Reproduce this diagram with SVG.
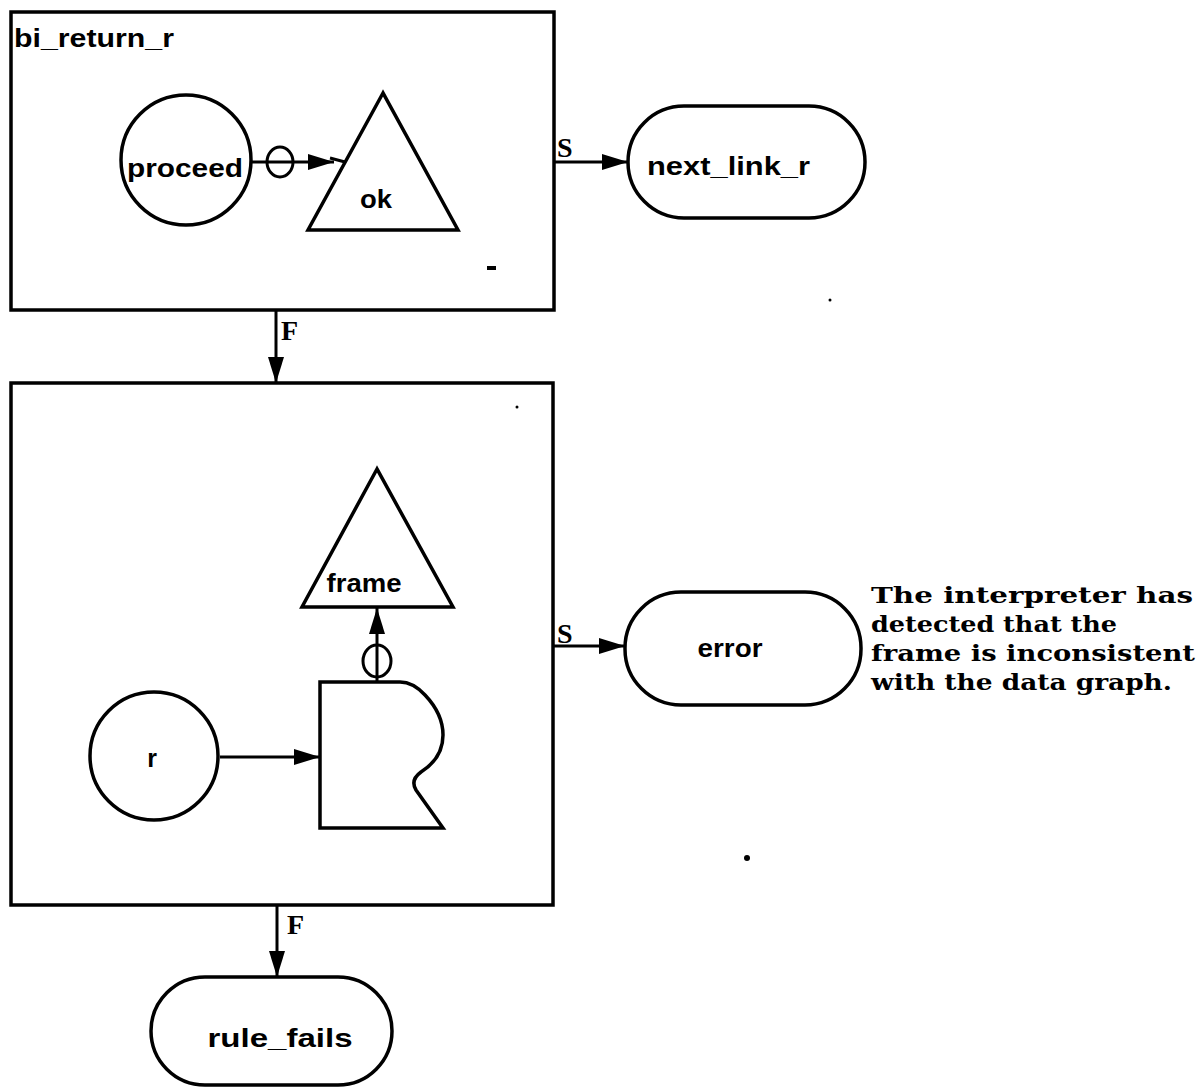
<svg xmlns="http://www.w3.org/2000/svg" width="1198" height="1089" viewBox="0 0 1198 1089">
<defs>
<marker id="arr" markerUnits="userSpaceOnUse" markerWidth="28" markerHeight="20" viewBox="0 0 28 20" refX="26" refY="10" orient="auto">
<path d="M0,2 L26,10 L0,18 Z" fill="#000"/>
</marker>
<style>
.box { fill: none; stroke: #000; stroke-width: 3.5; }
.shape { fill: none; stroke: #000; stroke-width: 3.5; }
.conn { stroke: #000; stroke-width: 3; fill: none; }
.mk { fill: none; stroke: #000; stroke-width: 3; }
.speck { fill: #000; stroke: none; }
text { font-family: "Liberation Sans", Arial, sans-serif; font-weight: bold; fill: #000; }
.lbl { font-size: 25px; }
.edge { font-family: "Liberation Serif", serif; font-size: 28px; font-weight: bold; }
.note { font-family: "DejaVu Serif", serif; font-size: 22px; font-weight: bold; }
</style>
</defs>
<rect width="1198" height="1089" fill="#fff"/>

<g id="box1">
<rect class="box" x="11" y="12" width="543" height="298"/>
<text class="lbl" x="14" y="47" font-size="26" textLength="160" lengthAdjust="spacingAndGlyphs">bi_return_r</text>
</g>
<g id="proceed">
<circle class="shape" cx="186" cy="160" r="65"/>
<text class="lbl" x="185" y="177" text-anchor="middle" textLength="116" lengthAdjust="spacingAndGlyphs">proceed</text>
</g>
<g id="ok">
<polygon class="shape" points="383,93 308,230 458,230"/>
<text class="lbl" x="376" y="208" text-anchor="middle" textLength="32" lengthAdjust="spacingAndGlyphs">ok</text>
</g>
<g id="next_link_r">
<rect class="shape" x="628" y="106" width="237" height="112" rx="56" ry="56"/>
<text class="lbl" x="647" y="175" textLength="163" lengthAdjust="spacingAndGlyphs">next_link_r</text>
</g>

<g id="box2">
<rect class="box" x="11" y="383" width="542" height="522"/>
</g>
<g id="frame">
<polygon class="shape" points="377,469 302,607 453,607"/>
<text class="lbl" x="364" y="592" text-anchor="middle" textLength="75" lengthAdjust="spacingAndGlyphs">frame</text>
</g>
<g id="r">
<circle class="shape" cx="154" cy="756" r="64"/>
<text class="lbl" x="152" y="767" text-anchor="middle">r</text>
</g>
<g id="datastore">
<path class="shape" d="M320,682 H400 Q413,682 425,695 Q443,714 443,735 Q443,758 421,772 Q410,780 416,790 L443,828 H320 Z"/>
</g>
<g id="error">
<rect class="shape" x="625" y="592" width="236" height="113" rx="56" ry="56"/>
<text class="lbl" x="730" y="657" text-anchor="middle" textLength="65" lengthAdjust="spacingAndGlyphs">error</text>
</g>
<g id="note">
<text class="note" x="871" y="603" textLength="322" lengthAdjust="spacingAndGlyphs">The interpreter has</text>
<text class="note" x="871" y="632" textLength="246" lengthAdjust="spacingAndGlyphs">detected that the</text>
<text class="note" x="871" y="661" textLength="324" lengthAdjust="spacingAndGlyphs">frame is inconsistent</text>
<text class="note" x="871" y="690" textLength="301" lengthAdjust="spacingAndGlyphs">with the data graph.</text>
</g>
<g id="rule_fails">
<rect class="shape" x="151" y="977" width="241" height="108" rx="54" ry="54"/>
<text class="lbl" x="280" y="1047" text-anchor="middle" textLength="145" lengthAdjust="spacingAndGlyphs">rule_fails</text>
</g>

<g id="connectors">
<line class="conn" x1="251" y1="162" x2="334" y2="162" marker-end="url(#arr)"/>
<line class="conn" x1="330" y1="158" x2="345" y2="162"/>
<ellipse class="mk" cx="280" cy="162" rx="13" ry="15"/>
<line class="conn" x1="554" y1="162" x2="628" y2="162" marker-end="url(#arr)"/>
<text class="edge" x="557" y="157">S</text>
<line class="conn" x1="276" y1="310" x2="276" y2="383" marker-end="url(#arr)"/>
<text class="edge" x="281" y="340">F</text>
<line class="conn" x1="220" y1="757" x2="320" y2="757" marker-end="url(#arr)"/>
<line class="conn" x1="377" y1="682" x2="377" y2="608" marker-end="url(#arr)"/>
<ellipse class="mk" cx="377" cy="661" rx="14" ry="16"/>
<line class="conn" x1="553" y1="646" x2="625" y2="646" marker-end="url(#arr)"/>
<text class="edge" x="557" y="643">S</text>
<line class="conn" x1="277" y1="905" x2="277" y2="977" marker-end="url(#arr)"/>
<text class="edge" x="287" y="934">F</text>
</g>

<g id="specks">
<rect class="speck" x="487" y="266" width="9" height="4"/>
<circle class="speck" cx="517" cy="407" r="1.5"/>
<circle class="speck" cx="830" cy="300" r="1.5"/>
<circle class="speck" cx="747" cy="858" r="3"/>
</g>
</svg>
